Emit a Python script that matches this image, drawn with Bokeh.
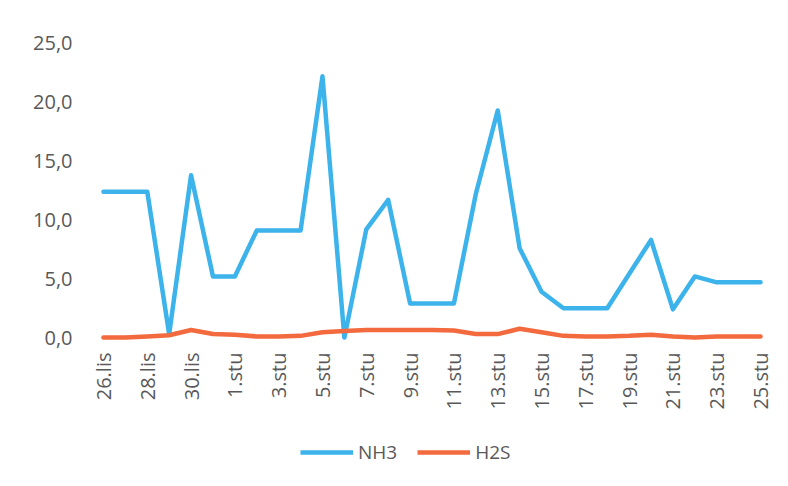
import math
from bokeh.plotting import figure
from bokeh.layouts import column
from bokeh.models import Range1d, FixedTicker, CustomJSTickFormatter, Legend, LegendItem
from bokeh.embed import file_html
from bokeh.resources import INLINE

dates = ["26.lis", "27.lis", "28.lis", "29.lis", "30.lis", "31.lis",
         "1.stu", "2.stu", "3.stu", "4.stu", "5.stu", "6.stu", "7.stu", "8.stu",
         "9.stu", "10.stu", "11.stu", "12.stu", "13.stu", "14.stu", "15.stu",
         "16.stu", "17.stu", "18.stu", "19.stu", "20.stu", "21.stu", "22.stu",
         "23.stu", "24.stu", "25.stu"]
nh3 = [12.4, 12.4, 12.4, 0.3, 13.8, 5.2, 5.2, 9.1, 9.1, 9.1, 22.2, 0.0, 9.2, 11.7,
       2.9, 2.9, 2.9, 12.2, 19.3, 7.6, 3.9, 2.5, 2.5, 2.5, 5.4, 8.3, 2.4, 5.2, 4.7, 4.7, 4.7]
h2s = [0.0, 0.0, 0.1, 0.2, 0.65, 0.3, 0.25, 0.1, 0.1, 0.15, 0.45, 0.57, 0.65, 0.65,
       0.65, 0.65, 0.6, 0.3, 0.3, 0.75, 0.45, 0.15, 0.1, 0.1, 0.15, 0.25, 0.1, 0.0, 0.1, 0.1, 0.1]
y_ticks = [0, 5, 10, 15, 20, 25]
series_names = ["NH3", "H2S"]

FONT = "Open Sans"
GREY = "#595959"
C_NH3 = "#3CB3EA"
C_H2S = "#F26A3E"
LW = 4.5
xs = list(range(len(dates)))

p = figure(width=788, height=420, output_backend="svg", toolbar_location=None,
           x_range=Range1d(-0.5, len(dates) - 0.5), y_range=Range1d(-0.5, 25.5),
           min_border_left=92, min_border_right=17, min_border_top=37, min_border_bottom=77)
p.outline_line_color = None
p.xgrid.visible = False
p.ygrid.visible = False
p.background_fill_color = "white"
p.border_fill_color = "white"

p.line(xs, nh3, line_color=C_NH3, line_width=LW, line_join="round", line_cap="round")
p.line(xs, h2s, line_color=C_H2S, line_width=LW, line_join="round", line_cap="round")

ya = p.yaxis[0]
ya.ticker = FixedTicker(ticks=y_ticks)
ya.formatter = CustomJSTickFormatter(code="return tick.toFixed(1).replace('.', ',');")
ya.axis_line_color = None
ya.major_tick_line_color = None
ya.minor_tick_line_color = None
ya.major_tick_out = 0
ya.major_label_standoff = 20
ya.major_label_text_font = FONT
ya.major_label_text_font_size = "20px"
ya.major_label_text_color = GREY

xa = p.xaxis[0]
xa.ticker = FixedTicker(ticks=xs[::2])
xa.major_label_overrides = {i: dates[i] for i in xs}
xa.major_label_orientation = math.pi / 2
xa.axis_line_color = None
xa.major_tick_line_color = None
xa.minor_tick_line_color = None
xa.major_tick_out = 0
xa.major_label_standoff = 9
xa.major_label_text_font = FONT
xa.major_label_text_font_size = "20px"
xa.major_label_text_color = GREY

# legend strip below the chart (series drawn off-view; only the legend shows)
lg = figure(width=788, height=66, output_backend="svg", toolbar_location=None,
            x_axis_type=None, y_axis_type=None, min_border=0,
            x_range=Range1d(-100, -99), y_range=Range1d(-100, -99))
lg.outline_line_color = None
lg.xgrid.visible = False
lg.ygrid.visible = False
lg.background_fill_color = "white"
lg.border_fill_color = "white"
k1 = lg.line(xs, nh3, line_color=C_NH3, line_width=LW)
k2 = lg.line(xs, h2s, line_color=C_H2S, line_width=LW)
legend = Legend(items=[LegendItem(label=series_names[0], renderers=[k1]),
                       LegendItem(label=series_names[1], renderers=[k2])],
                orientation="horizontal", location=(208, 21),
                glyph_width=53, label_standoff=5, spacing=20, padding=0, margin=0,
                label_text_font=FONT, label_text_font_size="19px", label_text_color=GREY,
                border_line_color=None, background_fill_alpha=0)
lg.add_layout(legend, "center")

layout = column(p, lg, spacing=0)
open("out.html", "w").write(file_html(layout, INLINE))
